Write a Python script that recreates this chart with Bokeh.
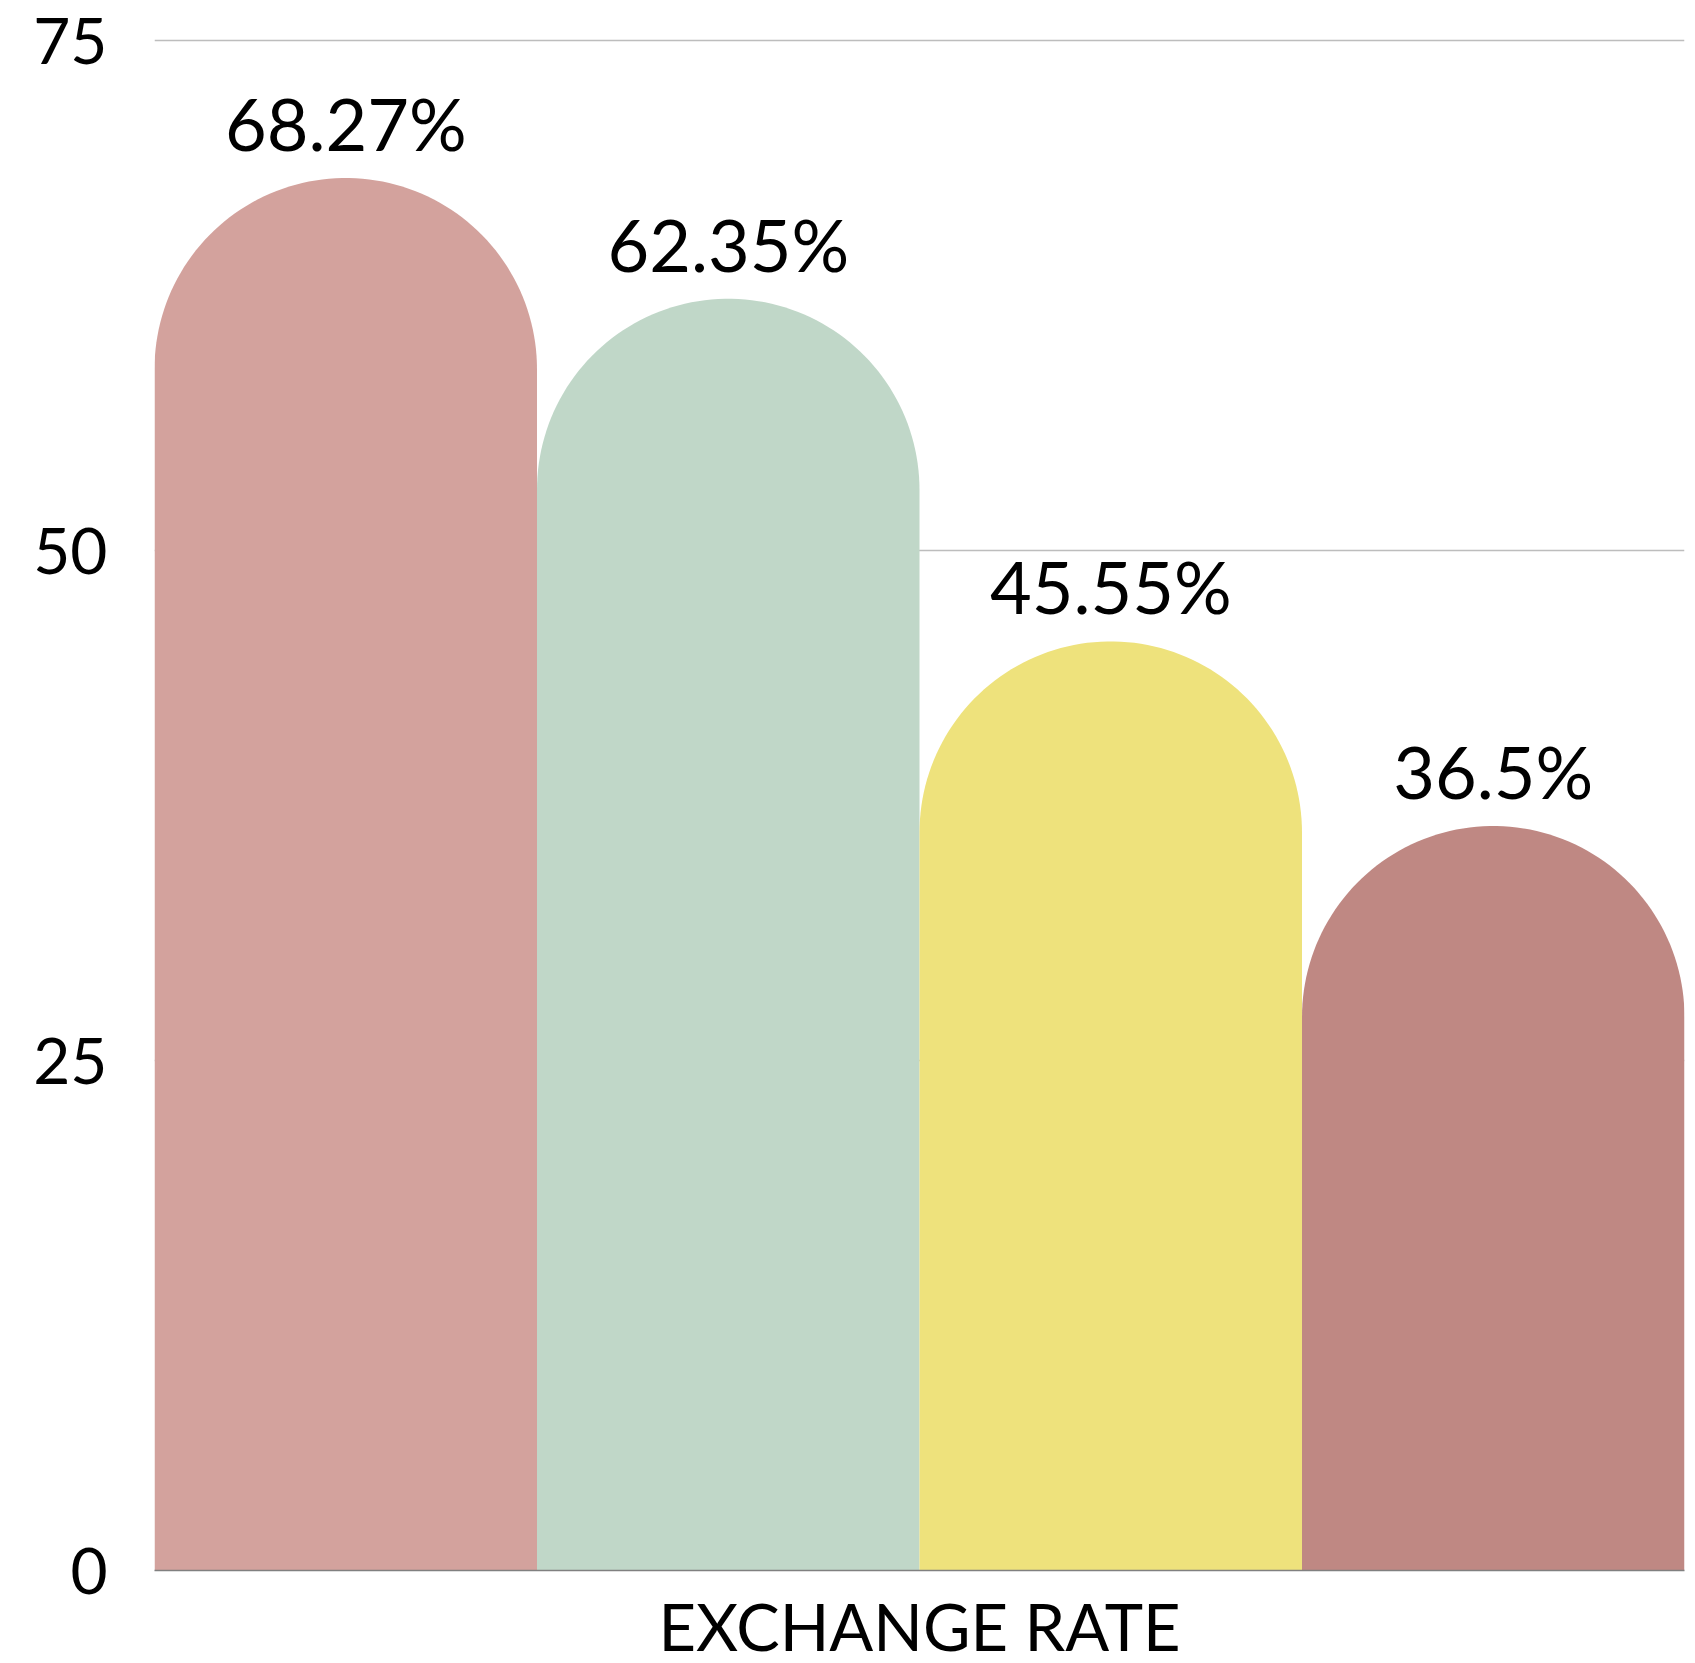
import numpy as np
from bokeh.plotting import figure
from bokeh.models import Range1d, FixedTicker, ColumnDataSource
from bokeh.embed import file_html
from bokeh.resources import INLINE
from bokeh.core.properties import value

# Data
category = "EXCHANGE RATE"
values = [68.27, 62.35, 45.55, 36.5]
colors = ["#D3A29D", "#C0D7C8", "#EEE27C", "#BF8883"]
y_ticks = [0, 25, 50, 75]

FONT = "Lato"
n = len(values)
PX_PER_Y = 20.4          # vertical scale of the frame, pixels per unit
Y_END = 75.5             # a little headroom so the top grid line is drawn
FRAME_W = 1530
FRAME_H = int(round(PX_PER_Y * Y_END))

p = figure(
    frame_width=FRAME_W, frame_height=FRAME_H,
    x_range=Range1d(0, n), y_range=Range1d(0, Y_END),
    output_backend="svg", toolbar_location=None,
    min_border_left=154, min_border_right=11,
    min_border_top=1663 - 93 - FRAME_H, min_border_bottom=93,
)
p.outline_line_color = None
p.background_fill_color = "white"

# Rounded-top bars: a rectangle capped by a half circle as wide as the bar.
px_per_x = FRAME_W / n
px_per_y = FRAME_H / Y_END
ry = 0.5 * px_per_x / px_per_y  # cap radius expressed in y units
t = np.linspace(np.pi, 0, 90)
xs, ys = [], []
for i, v in enumerate(values):
    c = i + 0.5
    cy = v - ry
    xs.append([c - 0.5] + list(c + 0.5 * np.cos(t)) + [c + 0.5])
    ys.append([0] + list(cy + ry * np.sin(t)) + [0])

p.patches(xs=xs, ys=ys, fill_color=colors, line_color=None)

# Value labels above each bar
src = ColumnDataSource(dict(
    x=[i + 0.5 for i in range(n)],
    y=values,
    label=[f"{v}%" for v in values],
))
p.text(x="x", y="y", text="label", source=src,
       text_align="center", text_baseline="alphabetic", y_offset=-55,
       text_font=value(FONT), text_font_size="72px", text_color="#000000")

# Y axis: labels only
p.yaxis.ticker = FixedTicker(ticks=y_ticks)
p.yaxis.axis_line_color = None
p.yaxis.major_tick_line_color = None
p.yaxis.minor_tick_line_color = None
p.yaxis.major_label_standoff = 41
p.yaxis.major_label_text_font = FONT
p.yaxis.major_label_text_font_size = "64px"
p.yaxis.major_label_text_color = "#000000"

# X axis: a single category label under the bars
p.xaxis.ticker = FixedTicker(ticks=[n / 2])
p.xaxis.major_label_overrides = {n / 2: category}
p.xaxis.axis_line_color = "#808080"
p.xaxis.axis_line_width = 1.5
p.xaxis.major_tick_line_color = None
p.xaxis.minor_tick_line_color = None
p.xaxis.major_label_standoff = 10
p.xaxis.major_label_text_font = FONT
p.xaxis.major_label_text_font_size = "65px"
p.xaxis.major_label_text_color = "#000000"

p.xgrid.grid_line_color = None
p.ygrid.ticker = FixedTicker(ticks=y_ticks[1:])
p.ygrid.grid_line_color = "#BDBDBD"
p.ygrid.grid_line_width = 1.5

open("out.html", "w").write(file_html(p, INLINE))
